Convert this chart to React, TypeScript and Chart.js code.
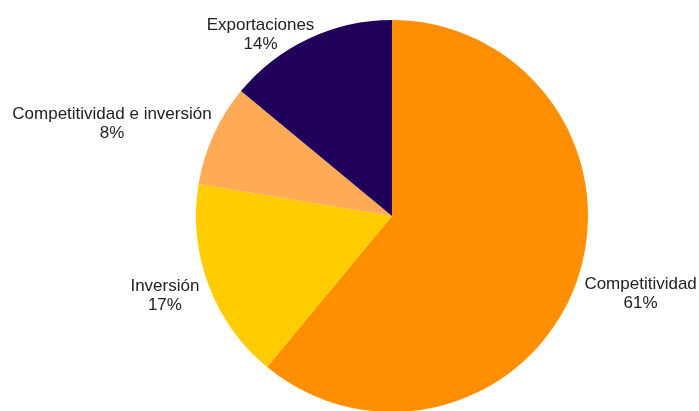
import React, { useEffect, useRef } from "react";
import { Chart, registerables } from "chart.js";

Chart.register(...registerables);

const categories = ["Competitividad", "Inversión", "Competitividad e inversión", "Exportaciones"];
const values = [61.0, 16.6, 8.4, 14.0];
const colors = ["#FF8F00", "#FFCC00", "#FFAA55", "#20005A"];

const FONT = '17px "Liberation Sans", Arial, sans-serif';
const LINE_H = 19;

const outsideLabels = {
  id: "outsideLabels",
  afterDatasetsDraw(chart: any) {
    const ctx = chart.ctx;
    const meta = chart.getDatasetMeta(0);
    const data = chart.data.datasets[0].data as number[];
    const total = data.reduce((a, b) => a + b, 0);
    ctx.save();
    ctx.font = FONT;
    ctx.fillStyle = "#222";
    ctx.textAlign = "center";
    ctx.textBaseline = "alphabetic";
    meta.data.forEach((arc: any, i: number) => {
      const p = arc.getProps(["x", "y", "startAngle", "endAngle", "outerRadius"], true);
      const theta = (p.startAngle + p.endAngle) / 2;
      const dx = Math.cos(theta);
      const dy = Math.sin(theta);
      const R = p.outerRadius;
      const lines = [String(chart.data.labels[i]), Math.round((data[i] / total) * 100) + "%"];
      const widths = lines.map((l) => ctx.measureText(l).width);
      const w = Math.max(...widths);
      const h = 34;
      const ax = p.x + (R + 12) * dx;
      const ay = p.y + (R + 12) * dy;
      let cx = ax + (w / 2) * dx;
      let cy = ay + (h / 2) * dy;
      const minTop = 14;
      if (cy - LINE_H < minTop) {
        cy = minTop + LINE_H;
        const dir = dx < 0 ? -1 : 1;
        const clear = R + 6;
        for (let k = 0; k < 600; k++) {
          let ok = true;
          lines.forEach((_, li) => {
            const base = cy - 3.5 + li * LINE_H;
            const top = base - 12.5;
            const left = cx - widths[li] / 2;
            const right = cx + widths[li] / 2;
            const nx = Math.min(Math.max(p.x, left), right);
            const ny = Math.min(Math.max(p.y, top), base);
            if (Math.hypot(nx - p.x, ny - p.y) < clear) ok = false;
          });
          if (ok) break;
          cx += dir * 0.5;
        }
      }
      lines.forEach((l, li) => {
        ctx.fillText(l, cx, cy - 3.5 + li * LINE_H);
      });
    });
    ctx.restore();
  },
};

export default function App() {
  const ref = useRef<HTMLCanvasElement | null>(null);
  useEffect(() => {
    if (!ref.current) return;
    const chart = new Chart(ref.current, {
      type: "pie",
      data: {
        labels: categories,
        datasets: [
          {
            data: values,
            backgroundColor: colors,
            borderWidth: 0,
            hoverOffset: 0,
          },
        ],
      },
      options: {
        animation: false,
        responsive: false,
        layout: { padding: { left: 196, right: 111, top: 20, bottom: 20 } },
        plugins: {
          legend: { display: false },
          tooltip: { enabled: false },
        },
      },
      plugins: [outsideLabels],
    });
    return () => chart.destroy();
  }, []);
  return (
    <div style={{ position: "absolute", left: 0, top: 0, width: 699, height: 411, overflow: "hidden", background: "#fff" }}>
      <canvas ref={ref} width={699} height={432} style={{ display: "block" }} />
    </div>
  );
}
